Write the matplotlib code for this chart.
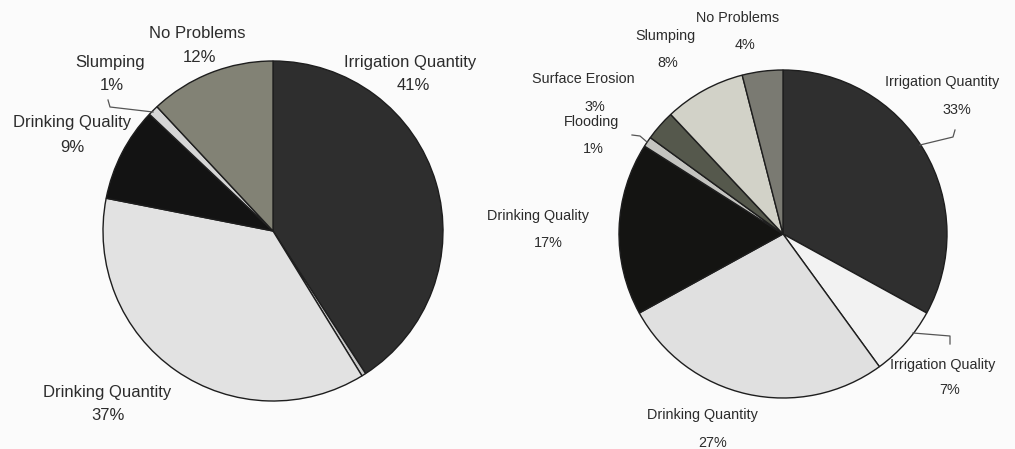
import matplotlib
matplotlib.use("Agg")
import matplotlib.pyplot as plt

plt.rcParams['font.family'] = ['Liberation Sans', 'DejaVu Sans']

H = 449

# ---- Left pie data (clockwise from 12 o'clock) ----
left_labels = ["Irrigation Quantity", "", "Drinking Quantity", "Drinking Quality",
               "Slumping", "No Problems"]
left_values = [41, 0.4, 37, 9, 1, 12]
left_pct = ["41%", "", "37%", "9%", "1%", "12%"]
left_colors = ["#2e2e2e", "#c8c8c8", "#e2e2e2", "#131313", "#d6d6d6", "#828275"]

# ---- Right pie data (clockwise from 12 o'clock) ----
right_labels = ["Irrigation Quantity", "Irrigation Quality", "Drinking Quantity",
                "Drinking Quality", "Flooding", "Surface Erosion", "Slumping",
                "No Problems"]
right_values = [33, 7, 27, 17, 1, 3, 8, 4]
right_pct = ["33%", "7%", "27%", "17%", "1%", "3%", "8%", "4%"]
right_colors = ["#2f2f2f", "#f2f2f2", "#e0e0e0", "#141412", "#c4c4c0",
                "#55584c", "#d2d2c8", "#7a7a72"]

fig = plt.figure(figsize=(10.15, 4.49), dpi=100)
fig.patch.set_facecolor("#fbfbfb")
ax = fig.add_axes([0, 0, 1, 1])

def Y(py):
    return H - py

ax.pie(left_values, colors=left_colors, startangle=90, counterclock=False,
       center=(273, Y(231)), radius=170,
       wedgeprops=dict(edgecolor="#1e1e1e", linewidth=1.0))
ax.pie(right_values, colors=right_colors, startangle=90, counterclock=False,
       center=(783, Y(234)), radius=164,
       wedgeprops=dict(edgecolor="#1e1e1e", linewidth=1.0))

ax.set_xlim(0, 1015)
ax.set_ylim(0, H)
ax.set_aspect("equal")
ax.axis("off")

tc = "#2c2c2c"

# Left labels: index -> (x, y label line, x, y pct line)
left_pos = {0: (410, 62, 413, 85), 2: (107, 393, 108, 415), 3: (72, 123, 72, 147),
            4: (110, 62, 112, 85), 5: (197, 33, 200, 57)}
for i, (x1, y1, x2, y2) in left_pos.items():
    ax.text(x1, Y(y1), left_labels[i], ha="center", va="center", fontsize=12, color=tc)
    ax.text(x2, Y(y2), left_pct[i], ha="center", va="center", fontsize=12, color=tc)

# Right labels
right_pos = {0: (942, 82, 957, 110), 1: (943, 365, 950, 390), 2: (702, 415, 713, 443),
             3: (538, 216, 548, 243), 4: (592, 122, 593, 149), 5: (583, 79, 595, 107),
             6: (665, 36, 668, 63), 7: (738, 18, 745, 45)}
for i, (x1, y1, x2, y2) in right_pos.items():
    ax.text(x1, Y(y1), right_labels[i], ha="center", va="center", fontsize=10.4, color=tc)
    ax.text(x2, Y(y2), right_pct[i], ha="center", va="center", fontsize=10.4, color=tc)

# leader lines
lc = "#555555"
ax.plot([108, 110, 153], [Y(100), Y(107), Y(112)], color=lc, lw=0.9)
ax.plot([955, 953, 920], [Y(130), Y(137), Y(145)], color=lc, lw=0.9)
ax.plot([913, 950, 950], [Y(333), Y(336), Y(344)], color=lc, lw=0.9)
ax.plot([632, 640, 647], [Y(135), Y(136), Y(142)], color=lc, lw=0.9)

fig.savefig("out.png", dpi=100, facecolor=fig.get_facecolor())
